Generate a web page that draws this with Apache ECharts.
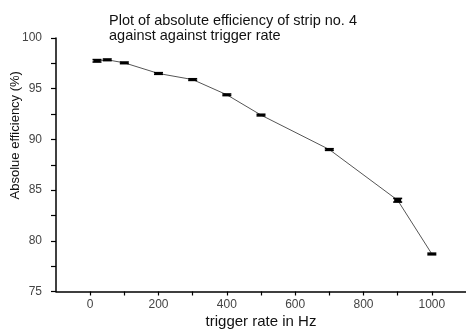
<!DOCTYPE html>
<html><head><meta charset="utf-8">
<script src="https://cdn.jsdelivr.net/npm/echarts@6/dist/echarts.min.js"></script>
<style>html,body{margin:0;padding:0;background:#fff}#c{width:466px;height:331px}</style>
</head><body><div id="c"></div>
<script>
const rates = [20, 50, 100, 200, 300, 400, 500, 700, 900, 1000];
const efficiency = [97.75, 97.85, 97.55, 96.5, 95.9, 94.4, 92.4, 89.0, 84.0, 78.7];
const errors = [0.12, 0.08, 0.08, 0.08, 0.08, 0.08, 0.08, 0.08, 0.18, 0.08];
const xTickLabels = [0, 200, 400, 600, 800, 1000];
const yTickLabels = [75, 80, 85, 90, 95, 100];
const titleLines = ['Plot of absolute efficiency of strip no. 4', 'against against trigger rate'];

const chart = echarts.init(document.getElementById('c'), null, {renderer: 'canvas'});
const lineData = rates.map((r, i) => [r, efficiency[i]]);
const errData = rates.map((r, i) => [r, efficiency[i] - errors[i], efficiency[i] + errors[i]]);
const font = 'Liberation Sans, Arial, sans-serif';
chart.setOption({
  animation: false,
  title: {
    text: titleLines.join('\n'), left: 104, top: 8,
    textStyle: {fontFamily: font, fontSize: 14.5, fontWeight: 'normal', color: '#111', lineHeight: 15.5}
  },
  grid: {left: 56, right: 0, top: 38, bottom: 39.5, containLabel: false, outerBoundsMode: 'none'},
  xAxis: {
    type: 'value', min: -100, max: 1100, interval: 100,
    name: 'trigger rate in Hz', nameLocation: 'middle', nameGap: 23, nameMoveOverlap: false,
    nameTextStyle: {fontFamily: font, fontSize: 15, color: '#111'},
    axisLine: {show: true, onZero: false, lineStyle: {color: '#000', width: 1.5}},
    axisTick: {show: true, length: 4, lineStyle: {color: '#000', width: 1.2}},
    axisLabel: {fontFamily: font, fontSize: 12, color: '#444', margin: 7,
      showMinLabel: false, showMaxLabel: false,
      formatter: v => xTickLabels.includes(v) ? String(v) : ''},
    splitLine: {show: false}
  },
  yAxis: {
    type: 'value', min: 75, max: 100, interval: 2.5,
    name: 'Absolue efficiency (%)', nameLocation: 'middle', nameGap: 34, nameRotate: 90, nameMoveOverlap: false,
    nameTextStyle: {fontFamily: font, fontSize: 13, color: '#111', padding: [0, 0, 0, 59]},
    axisLine: {show: true, onZero: false, lineStyle: {color: '#000', width: 1.5}},
    axisTick: {show: true, length: 5, lineStyle: {color: '#000', width: 1.2}},
    axisLabel: {fontFamily: font, fontSize: 12, color: '#444', margin: 14,
      formatter: v => yTickLabels.includes(v) ? String(v) : ''},
    splitLine: {show: false}
  },
  series: [
    {type: 'line', data: lineData, symbol: 'none', lineStyle: {color: '#555', width: 1}, z: 2},
    {type: 'custom', z: 3, data: errData,
      renderItem: function (params, api) {
        const x = api.value(0);
        const lo = api.coord([x, api.value(1)]);
        const hi = api.coord([x, api.value(2)]);
        const hw = 4.5;
        const st = {stroke: '#000', lineWidth: 1.6};
        return {type: 'group', children: [
          {type: 'line', shape: {x1: lo[0], y1: lo[1], x2: hi[0], y2: hi[1]}, style: st},
          {type: 'line', shape: {x1: lo[0] - hw, y1: lo[1], x2: lo[0] + hw, y2: lo[1]}, style: st},
          {type: 'line', shape: {x1: hi[0] - hw, y1: hi[1], x2: hi[0] + hw, y2: hi[1]}, style: st},
          {type: 'rect', shape: {x: lo[0] - hw + 1, y: hi[1], width: 2 * hw - 2, height: Math.max(lo[1] - hi[1], 1)}, style: {fill: '#000'}}
        ]};
      }
    }
  ]
});
</script></body></html>
